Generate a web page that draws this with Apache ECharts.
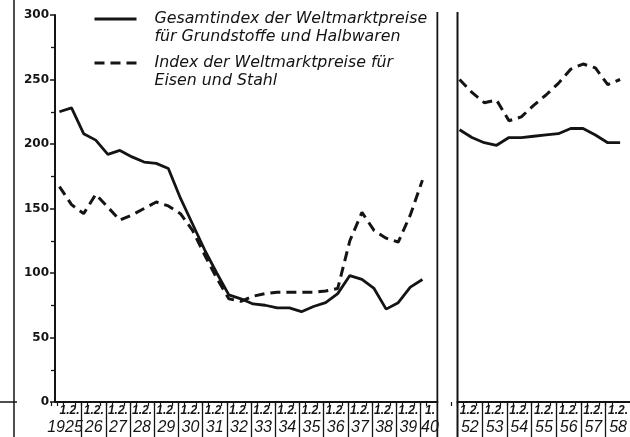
<!DOCTYPE html>
<html><head><meta charset="utf-8">
<script src="https://cdn.jsdelivr.net/npm/echarts@6/dist/echarts.min.js"></script>
<style>html,body{margin:0;padding:0;background:#fff}#c{width:630px;height:437px}</style>
</head><body><div id="c"></div>
<script>
// ---------- data ----------
const seriesNames = ['Gesamtindex der Weltmarktpreise\nfür Grundstoffe und Halbwaren',
                     'Index der Weltmarktpreise für\nEisen und Stahl'];
const leftDates = ['1925-02','1925-08','1926-02','1926-08','1927-02','1927-08','1928-02','1928-08',
  '1929-02','1929-08','1930-02','1930-08','1931-02','1931-08','1932-02','1932-08','1933-02','1933-08',
  '1934-02','1934-08','1935-02','1935-08','1936-02','1936-08','1937-02','1937-08','1938-02','1938-08',
  '1939-02','1939-08','1940-02'];
const leftGesamt = [225, 228, 208, 203, 192, 195, 190, 186, 185, 181, 158, 138, 118, 100, 83, 80,
  76, 75, 73, 73, 70, 74, 77, 84, 98, 95, 88, 72, 77, 89, 95];
const leftEisen = [167, 153, 146, 161, 151, 141, 145, 150, 155, 152, 146, 133, 114, 96, 80, 78,
  82, 84, 85, 85, 85, 85, 86, 88, 125, 147, 133, 127, 124, 145, 172];
const rightDates = ['1952-02','1952-08','1953-02','1953-08','1954-02','1954-08','1955-02','1955-08',
  '1956-02','1956-08','1957-02','1957-08','1958-02','1958-08'];
const rightGesamt = [211, 205, 201, 199, 205, 205, 206, 207, 208, 212, 212, 207, 201, 201];
const rightEisen = [250, 240, 232, 234, 218, 221, 230, 238, 247, 258, 262, 259, 246, 250];
const leftYearLabels = ['1925','26','27','28','29','30','31','32','33','34','35','36','37','38','39','40'];
const leftTopLabels = ['1.2.','1.2.','1.2.','1.2.','1.2.','1.2.','1.2.','1.2.','1.2.','1.2.',
  '1.2.','1.2.','1.2.','1.2.','1.2.','1.'];
const rightYearLabels = ['52','53','54','55','56','57','58'];
const rightTopLabels = ['1.2.','1.2.','1.2.','1.2.','1.2.','1.2.','1.2.'];
const yMin = 0, yMax = 300, yStep = 50;

// ---------- layout ----------
const INK = '#141414';
const TOP = 15, AXIS_Y = 402, BOTTOM_Y = 437;
const L = {x0: 55, y0: 1924.9, k: 24.2, first: 1925, max: 1940.7};
const R = {x0: 457.5, y0: 1952, k: 24.7, first: 1952, max: 1959};
function toYear(s){ const p = s.split('-'); return +p[0] + (+p[1] - 1) / 12; }
function pairs(dates, vals){ return dates.map((d, i) => [toYear(d), vals[i]]); }
function gridFor(P, min, max, top, height){
  return {left: P.x0 + (min - P.y0) * P.k, width: (max - min) * P.k, top: top, height: height, outerBoundsMode: 'none'};
}
const grids = [
  gridFor(L, L.y0, L.max, TOP, AXIS_Y - TOP),
  gridFor(L, L.first - 0.5, L.max - 0.2, TOP, AXIS_Y - TOP),
  gridFor(L, L.first, L.max, AXIS_Y, BOTTOM_Y - AXIS_Y),
  gridFor(R, R.y0, R.max, TOP, AXIS_Y - TOP),
  gridFor(R, R.first - 0.5, R.max - 0.5, TOP, AXIS_Y - TOP),
  gridFor(R, R.first, R.max, AXIS_Y, BOTTOM_Y - AXIS_Y)
];
const labelFont = 'Liberation Sans';
const textFont = 'DejaVu Sans';
const topStyle = {fontSize: 12, lineHeight: 15, fontStyle: 'italic', fontFamily: labelFont, color: INK, fontWeight: 'bold'};
const yearStyle = {fontSize: 16, lineHeight: 20, fontStyle: 'italic', fontFamily: labelFont, color: INK};
const rich = {
  a: topStyle,
  e: Object.assign({}, topStyle, {padding: [0, 5, 0, 0]}),
  b: yearStyle,
  c: Object.assign({}, yearStyle, {padding: [0, 9, 0, 0]}),
  d: Object.assign({}, yearStyle, {padding: [0, 5, 0, 0]})
};
function labelFormatter(first, years, tops){
  return function(v){
    const i = Math.round(v - 0.5) - first;
    if (Math.abs(v - Math.floor(v) - 0.5) > 1e-6 || i < 0 || i >= years.length) return '';
    const last = i === years.length - 1 && tops[i] === '1.';
    const ts = last ? 'e' : 'a';
    const bs = years[i].length === 4 ? 'c' : (last ? 'd' : 'b');
    return '{' + ts + '|' + tops[i] + '}\n{' + bs + '|' + years[i] + '}';
  };
}
function dataX(gi, min, max){
  return {gridIndex: gi, type: 'value', min: min, max: max,
    axisLine: {show: true, onZero: false, lineStyle: {color: INK, width: 2}},
    axisTick: {show: false}, axisLabel: {show: false}, splitLine: {show: false}};
}
function labelX(gi, min, max, first, years, tops){
  return {gridIndex: gi, type: 'value', min: min, max: max, interval: 1,
    axisLine: {show: false, onZero: false}, axisTick: {show: false},
    minorTick: {show: true, splitNumber: 4, length: 4, lineStyle: {color: INK, width: 1.2}},
    axisLabel: {show: true, margin: 1, formatter: labelFormatter(first, years, tops), rich: rich, showMinLabel: true, showMaxLabel: true},
    splitLine: {show: false}, minorSplitLine: {show: false}};
}
function sepX(gi, min, max){
  return {gridIndex: gi, type: 'value', min: min, max: max, interval: 1,
    axisLine: {show: false, onZero: false}, axisTick: {show: false}, axisLabel: {show: false},
    splitLine: {show: true, showMinLine: false, showMaxLine: false, lineStyle: {color: INK, width: 1.3}}};
}
function hiddenY(gi){ return {gridIndex: gi, type: 'value', min: yMin, max: yMax, show: false}; }

const solidStyle = {color: INK, width: 2.8, type: 'solid'};
const dashStyle = {color: INK, width: 3, type: [10, 6]};
function lineSeries(name, xi, yi, data, style){
  return {name: name, type: 'line', xAxisIndex: xi, yAxisIndex: yi, data: data, symbol: 'none',
    lineStyle: style, itemStyle: {color: INK}, silent: true, animation: false};
}
function legendFor(name, top){
  return {data: [name], left: 93, top: top, orient: 'vertical', padding: 0, itemWidth: 42, itemHeight: 14,
    selectedMode: false, formatter: n => '\n' + n, itemStyle: {opacity: 0},
    lineStyle: {width: 3},
    textStyle: {fontFamily: textFont, fontStyle: 'italic', fontSize: 15.8, lineHeight: 18, color: INK, padding: [0, 0, 0, 13]}};
}

const chart = echarts.init(document.getElementById('c'), null, {renderer: 'canvas'});
chart.setOption({
  backgroundColor: '#fff',
  animation: false,
  grid: grids,
  xAxis: [
    dataX(0, L.y0, L.max),
    labelX(1, L.first - 0.5, L.max - 0.2, L.first, leftYearLabels, leftTopLabels),
    sepX(2, L.first, L.max),
    dataX(3, R.y0, R.max),
    labelX(4, R.first - 0.5, R.max - 0.5, R.first, rightYearLabels, rightTopLabels),
    sepX(5, R.first, R.max)
  ],
  yAxis: [
    {gridIndex: 0, type: 'value', min: yMin, max: yMax, interval: yStep,
     axisLine: {show: true, lineStyle: {color: INK, width: 2}},
     axisTick: {show: true, length: 5, lineStyle: {color: INK, width: 1.5}},
     minorTick: {show: true, splitNumber: 2, length: 4, lineStyle: {color: INK, width: 1.3}},
     axisLabel: {margin: 6, fontFamily: textFont, fontWeight: 'bold', fontSize: 12, color: INK},
     splitLine: {show: false}, minorSplitLine: {show: false}},
    hiddenY(1), hiddenY(2), hiddenY(3), hiddenY(4), hiddenY(5)
  ],
  legend: [legendFor(seriesNames[0], -8), legendFor(seriesNames[1], 36)],
  series: [
    lineSeries(seriesNames[0], 0, 0, pairs(leftDates, leftGesamt), solidStyle),
    lineSeries(seriesNames[1], 0, 0, pairs(leftDates, leftEisen), dashStyle),
    lineSeries(seriesNames[0], 3, 3, pairs(rightDates, rightGesamt), solidStyle),
    lineSeries(seriesNames[1], 3, 3, pairs(rightDates, rightEisen), dashStyle)
  ],
  graphic: [
    {type: 'line', shape: {x1: L.x0 + (L.max - L.y0) * L.k, y1: 12, x2: L.x0 + (L.max - L.y0) * L.k, y2: BOTTOM_Y}, style: {stroke: INK, lineWidth: 1.8}},
    {type: 'line', shape: {x1: R.x0, y1: 12, x2: R.x0, y2: BOTTOM_Y}, style: {stroke: INK, lineWidth: 2}},
    {type: 'line', shape: {x1: 14, y1: 0, x2: 14, y2: BOTTOM_Y}, style: {stroke: INK, lineWidth: 1.5}},
    {type: 'line', shape: {x1: 0, y1: AXIS_Y, x2: 17, y2: AXIS_Y}, style: {stroke: INK, lineWidth: 1.5}}
  ]
});
</script></body></html>
